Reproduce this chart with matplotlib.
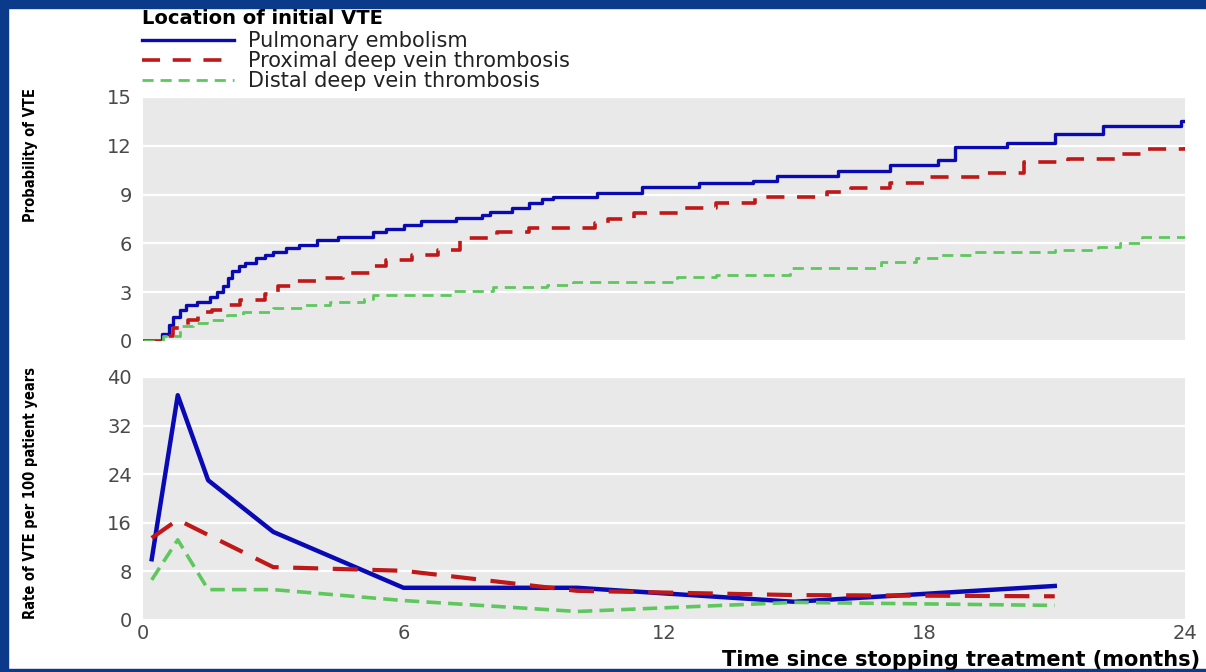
import matplotlib
matplotlib.use('Agg')
import matplotlib.pyplot as plt
from matplotlib.patches import Rectangle

# cumulative probability of recurrent VTE (%), step curves
pe_t = [0, 0.44, 0.6, 0.7, 0.85, 1.0, 1.25, 1.55, 1.7, 1.85, 1.95, 2.05, 2.2, 2.35, 2.6,
        2.8, 3.0, 3.3, 3.6, 4.0, 4.5, 5.3, 5.6, 6.0, 6.4, 7.2, 7.8, 8.0, 8.5, 8.9, 9.2,
        9.45, 10.45, 11.5, 12.8, 14.05, 14.6, 16.0, 17.2, 18.3, 18.7, 19.9, 21.0, 22.1,
        23.9, 24.0]
pe_p = [0, 0.4, 1.0, 1.5, 1.9, 2.2, 2.4, 2.7, 3.0, 3.4, 3.9, 4.3, 4.6, 4.8, 5.1,
        5.3, 5.5, 5.7, 5.9, 6.2, 6.4, 6.7, 6.9, 7.15, 7.4, 7.55, 7.75, 7.9, 8.15, 8.5, 8.7,
        8.85, 9.1, 9.45, 9.7, 9.85, 10.15, 10.45, 10.8, 11.1, 11.9, 12.2, 12.7, 13.2,
        13.5, 13.5]

prox_t = [0, 0.45, 0.7, 1.03, 1.27, 1.6, 1.9, 2.23, 2.8, 3.1, 3.55, 4.1, 4.6, 5.3, 5.6,
          6.2, 6.8, 7.3, 8.15, 8.9, 10.4, 10.7, 11.3, 12.4, 13.2, 14.1, 15.75, 16.3,
          17.2, 18.0, 19.4, 20.3, 21.3, 22.4, 23.0, 24.0]
prox_p = [0, 0.3, 0.8, 1.3, 1.8, 1.9, 2.2, 2.5, 2.9, 3.4, 3.7, 3.9, 4.2, 4.6, 5.0,
          5.3, 5.6, 6.3, 6.7, 6.95, 7.25, 7.5, 7.85, 8.2, 8.5, 8.85, 9.15, 9.4,
          9.7, 10.1, 10.3, 11.0, 11.2, 11.5, 11.8, 11.9]

dist_t = [0, 0.45, 0.85, 1.15, 1.47, 1.93, 2.3, 3.0, 3.7, 4.3, 5.1, 5.3, 7.15, 8.05,
          9.3, 9.9, 12.3, 13.2, 14.9, 17.0, 17.8, 18.3, 19.1, 21.0, 22.0, 22.5,
          23.0, 24.0]
dist_p = [0, 0.3, 0.9, 1.1, 1.3, 1.6, 1.8, 2.0, 2.2, 2.4, 2.6, 2.8, 3.1, 3.3,
          3.45, 3.6, 3.95, 4.05, 4.5, 4.85, 5.1, 5.3, 5.5, 5.6, 5.8, 6.0,
          6.4, 6.4]

# rate of VTE per 100 patient years
rate_t = [0.2, 0.8, 1.5, 3, 6, 10, 15, 21]
pe_rate = [10, 37, 23, 14.5, 5.3, 5.3, 3.0, 5.6]
prox_rate = [13.5, 16.5, 14, 8.7, 8.1, 4.8, 4.1, 3.9]
dist_rate = [6.6, 13.2, 5.0, 5.0, 3.2, 1.4, 2.9, 2.4]

labels = ['Pulmonary embolism', 'Proximal deep vein thrombosis', 'Distal deep vein thrombosis']
top_ticks = [0, 3, 6, 9, 12, 15]
bottom_ticks = [0, 8, 16, 24, 32, 40]
x_ticks = [0, 6, 12, 18, 24]

blue = '#0a0ab4'
red = '#c01818'
green = '#5ec85e'
tick_col = '#4a4a4a'
frame = '#0b3a8a'

fig = plt.figure(figsize=(12.06, 6.72), dpi=100)

# dark blue slide frame
fig.patches.append(Rectangle((0, 0), 0.0066, 1, transform=fig.transFigure, color=frame, zorder=0))
fig.patches.append(Rectangle((0, 0.988), 1, 0.012, transform=fig.transFigure, color=frame, zorder=0))
fig.patches.append(Rectangle((0, 0), 1, 0.004, transform=fig.transFigure, color=frame, zorder=0))

ax1 = fig.add_axes([0.1186, 0.4926, 0.864, 0.3631])
ax2 = fig.add_axes([0.1186, 0.0774, 0.864, 0.3616])

for ax, ticks in [(ax1, top_ticks), (ax2, bottom_ticks)]:
    ax.set_facecolor('#e9e9e9')
    for s in ax.spines.values():
        s.set_visible(False)
    ax.set_xlim(0, 24)
    ax.set_ylim(ticks[0], ticks[-1])
    ax.set_yticks(ticks)
    ax.set_xticks(x_ticks)
    ax.grid(axis='y', color='white', linewidth=1.6)
    ax.set_axisbelow(True)
    ax.tick_params(length=0, labelsize=14, colors=tick_col, pad=8)

ax1.set_xticklabels([])
ax2.tick_params(axis='x', pad=3)

l1, = ax1.step(pe_t, pe_p, where='post', color=blue, lw=2.4)
l2, = ax1.step(prox_t, prox_p, where='post', color=red, lw=2.6, dashes=(5, 3.5))
l3, = ax1.step(dist_t, dist_p, where='post', color=green, lw=2.0, dashes=(4, 2.5))

ax2.plot(rate_t, pe_rate, color=blue, lw=3.2)
ax2.plot(rate_t, prox_rate, color=red, lw=3.0, dashes=(6, 3.5))
ax2.plot(rate_t, dist_rate, color=green, lw=2.6, dashes=(4, 2))

leg = fig.legend([l1, l2, l3], labels, loc='upper left', bbox_to_anchor=(0.104, 1.011),
                 frameon=False, fontsize=15, title='Location of initial VTE',
                 title_fontproperties={'weight': 'bold', 'size': 14},
                 handlelength=4.4, handletextpad=0.7, labelspacing=0.0,
                 borderpad=0.3, alignment='left')
leg._legend_box.sep = 2
for t in leg.get_texts():
    t.set_color('#222222')

narrow = ['DejaVu Sans']
fig.text(0.025, 1 - 155 / 672, 'Probability of VTE', rotation=90, ha='center', va='center',
         fontsize=10.5, fontweight='bold', fontstretch='condensed', family=narrow)
fig.text(0.025, 1 - 493 / 672, 'Rate of VTE per 100 patient years', rotation=90, ha='center',
         va='center', fontsize=10.5, fontweight='bold', fontstretch='condensed', family=narrow)

fig.text(0.995, 1 - 660 / 672, 'Time since stopping treatment (months)', ha='right',
         va='center', fontsize=15, fontweight='bold')

fig.savefig('out.png', dpi=100)
